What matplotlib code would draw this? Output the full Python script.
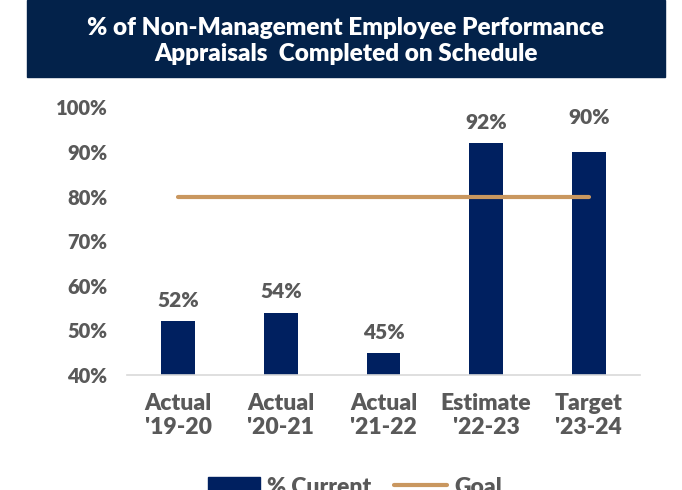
import matplotlib.pyplot as plt
from matplotlib import font_manager as fm
from matplotlib.patches import Rectangle
from matplotlib.lines import Line2D

# data
categories = ["Actual\n'19-20", "Actual\n'20-21", "Actual\n'21-22", "Estimate\n'22-23", "Target\n'23-24"]
current = [52, 54, 45, 92, 90]
goal = [80, 80, 80, 80, 80]
yticks = [40, 50, 60, 70, 80, 90, 100]

NAVY = '#002060'
TAN = '#C9975F'
GREY = '#595959'
BANNER = '#03224A'

# pin the heavy face by file so the weight can't get lost
HEAVY = fm.findfont(fm.FontProperties(family='Lato', weight='heavy'))


def heavy(size):
    return fm.FontProperties(fname=HEAVY, size=size)


fig = plt.figure(figsize=(6.82, 4.9), dpi=100)

# title banner
fig.patches.append(Rectangle((27 / 682, 1 - 77 / 490), 638 / 682, 77 / 490,
                             transform=fig.transFigure, color=BANNER, zorder=0))
fig.text(0.507, 1 - 41 / 490,
         "% of Non-Management Employee Performance\nAppraisals  Completed on Schedule",
         ha='center', va='center', color='white', fontproperties=heavy(17.5),
         linespacing=1.25)

ax = fig.add_axes([127 / 682, 1 - 375 / 490, 513 / 682, 267.6 / 490])
x = list(range(len(categories)))
ax.bar(x, current, width=0.33, color=NAVY, zorder=2)
ax.plot(x, goal, color=TAN, lw=3, solid_capstyle='round', zorder=3)

# value labels (last one sits a bit higher in the original)
for i, v in enumerate(current):
    off = 18 if i == len(current) - 1 else 8
    ax.annotate(f"{v}%", (i, v), xytext=(0, off), textcoords='offset points',
                ha='center', va='bottom', color=GREY, fontproperties=heavy(15))

ax.set_xlim(-0.5, 4.5)
ax.set_ylim(40, 100)
ax.set_yticks(yticks)
ax.set_yticklabels([f"{t}%" for t in yticks], fontproperties=heavy(14.5))
ax.set_xticks(x)
ax.set_xticklabels(categories, fontproperties=heavy(16.5), linespacing=1.2)
for s in ['top', 'right', 'left']:
    ax.spines[s].set_visible(False)
ax.spines['bottom'].set_color('#D9D9D9')
ax.spines['bottom'].set_linewidth(1.2)
ax.tick_params(axis='y', length=0, pad=14, labelcolor=GREY)
ax.tick_params(axis='x', length=0, pad=13, labelcolor=GREY)

# legend, cut by the bottom edge like the original
handles = [Rectangle((0, 0), 1, 1, color=NAVY),
           Line2D([0], [0], color=TAN, lw=3, solid_capstyle='round')]
leg = fig.legend(handles, ['% Current', 'Goal'], loc='upper center',
                 bbox_to_anchor=(0.52, 1 - 456 / 490), ncol=2, frameon=False,
                 prop=heavy(16.5), handlelength=2.3, handleheight=0.9,
                 columnspacing=1.0, handletextpad=0.3)
for t in leg.get_texts():
    t.set_color(GREY)

fig.savefig('out.png', dpi=100)
